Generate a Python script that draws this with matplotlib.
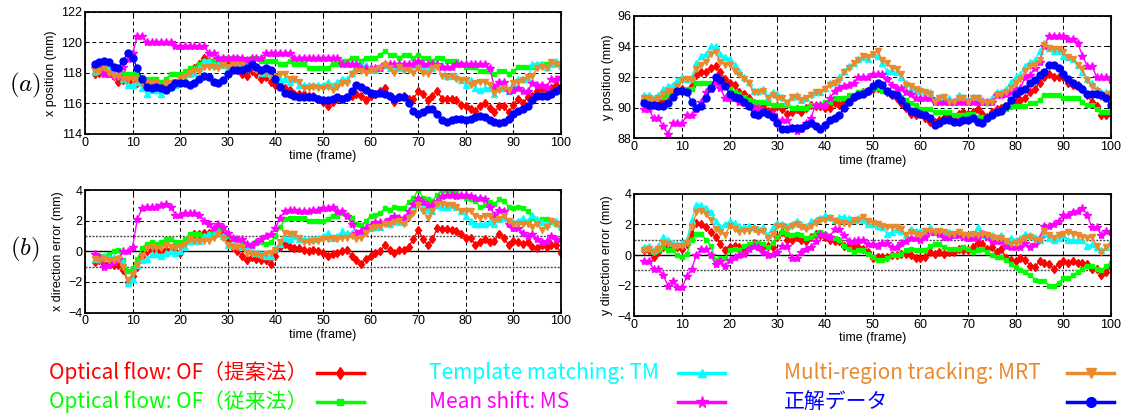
import matplotlib
matplotlib.use("Agg")
import matplotlib.pyplot as plt
from matplotlib.lines import Line2D

plt.rcParams['font.family'] = ['Liberation Sans', 'DejaVu Sans']
plt.rcParams['mathtext.fontset'] = 'cm'

frames = list(range(2, 101))
x_ticks = list(range(0, 101, 10))

# ---- x position (mm) ----
x_true = [118.6, 118.7, 118.8, 118.7, 118.4, 118.3, 118.8, 119.3, 119.0, 118.3,
          117.6, 117.1, 117.0, 117.1, 117.0, 116.9, 117.1, 117.3, 117.3, 117.3,
          117.2, 117.3, 117.6, 117.8, 117.7, 117.4, 117.3, 117.5, 117.9, 118.2,
          118.2, 118.2, 118.3, 118.6, 118.4, 118.2, 118.3, 118.2, 117.6, 117.1,
          116.7, 116.6, 116.5, 116.4, 116.4, 116.4, 116.4, 116.3, 116.2, 116.2,
          116.3, 116.4, 116.3, 116.4, 116.8, 117.2, 117.1, 116.9, 116.7, 116.6,
          116.7, 116.6, 116.5, 116.3, 116.4, 116.4, 116.0, 115.5, 115.3, 115.4,
          115.6, 115.6, 115.3, 114.9, 114.8, 114.9, 115.0, 115.0, 114.9, 115.0,
          115.1, 115.2, 115.1, 114.9, 114.8, 114.7, 114.8, 115.0, 115.3, 115.5,
          115.6, 115.8, 116.2, 116.5, 116.5, 116.5, 116.6, 116.8, 117.0]
x_of_prop = [117.9, 118.0, 118.1, 118.0, 117.8, 117.4, 117.5, 117.4, 117.5, 117.3,
             117.4, 117.1, 117.1, 117.0, 116.9, 117.0, 117.2, 117.3, 117.4, 117.9,
             118.1, 118.3, 118.6, 119.0, 118.8, 118.8, 118.8, 118.6, 118.5, 118.4,
             118.2, 117.9, 117.8, 118.1, 117.9, 117.6, 117.7, 117.4, 117.2, 117.4,
             117.0, 116.9, 116.6, 116.6, 116.6, 116.5, 116.5, 116.3, 116.1, 115.8,
             116.1, 116.3, 116.3, 116.4, 116.5, 116.6, 116.5, 116.2, 116.5, 116.6,
             116.8, 117.0, 116.5, 116.1, 116.4, 116.5, 116.3, 116.3, 116.8, 116.6,
             116.2, 116.5, 116.8, 116.3, 116.3, 116.3, 116.2, 115.9, 115.8, 115.6,
             115.5, 115.8, 116.0, 115.7, 115.4, 115.8, 115.8, 115.4, 115.9, 116.3,
             116.0, 116.4, 116.5, 116.8, 117.0, 116.8, 117.0, 117.2, 117.0]
x_of_conv = [118.0, 118.2, 118.5, 118.4, 118.4, 118.3, 118.0, 117.9, 117.9, 117.9,
             117.7, 117.6, 117.6, 117.6, 117.4, 117.6, 117.9, 117.9, 117.9, 118.1,
             118.3, 118.3, 118.6, 118.8, 118.8, 118.8, 118.8, 119.0, 119.0, 119.0,
             119.0, 118.8, 118.8, 119.0, 119.0, 118.8, 118.8, 118.8, 118.8, 118.6,
             118.6, 118.8, 118.6, 118.6, 118.6, 118.3, 118.3, 118.3, 118.3, 118.3,
             118.6, 118.6, 118.8, 118.8, 119.0, 119.0, 118.8, 119.0, 119.0, 119.0,
             119.2, 119.4, 119.2, 119.2, 119.0, 119.2, 119.2, 119.0, 119.2, 119.0,
             119.0, 118.8, 119.0, 119.0, 118.8, 118.8, 118.8, 118.6, 118.4, 118.4,
             118.4, 118.1, 118.1, 118.1, 117.9, 118.1, 118.1, 117.9, 118.1, 118.4,
             118.4, 118.4, 118.4, 118.4, 118.6, 118.6, 118.6, 118.6, 118.4]
x_tm = [118.1, 118.2, 118.5, 118.3, 118.0, 117.8, 117.6, 117.2, 117.2, 117.4,
        117.0, 116.6, 116.9, 116.9, 116.6, 116.9, 117.1, 117.2, 117.3, 117.6,
        117.9, 118.0, 118.3, 118.8, 118.8, 118.5, 118.5, 118.5, 118.3, 118.6,
        118.6, 118.5, 118.6, 118.6, 118.3, 118.0, 118.0, 117.9, 117.8, 117.6,
        117.6, 117.4, 117.6, 117.2, 117.2, 117.2, 117.2, 117.2, 117.2, 117.4,
        117.2, 117.4, 117.6, 117.6, 118.0, 118.3, 118.5, 118.5, 118.2, 118.2,
        118.3, 118.5, 118.3, 118.3, 118.3, 118.3, 118.5, 118.5, 118.7, 118.3,
        118.2, 118.3, 118.5, 118.5, 117.8, 117.8, 117.8, 117.5, 117.2, 117.5,
        117.0, 116.9, 117.0, 117.0, 116.6, 117.0, 117.0, 116.8, 117.3, 117.6,
        117.6, 117.6, 118.6, 118.6, 118.6, 118.4, 118.6, 118.8, 118.6]
x_ms = [118.3, 118.3, 117.9, 117.9, 117.8, 117.8, 118.4, 118.9, 119.3, 120.4,
        120.4, 120.0, 120.0, 120.0, 120.0, 120.0, 120.0, 119.75, 119.75, 119.75,
        119.75, 119.75, 119.75, 119.75, 119.3, 119.3, 119.0, 119.0, 119.0, 119.0,
        119.0, 119.0, 118.85, 119.0, 119.0, 119.0, 119.3, 119.3, 119.3, 119.3,
        119.3, 119.3, 119.0, 119.0, 119.0, 119.0, 119.0, 119.0, 119.0, 119.0,
        119.0, 119.0, 118.6, 118.6, 118.6, 118.6, 118.3, 118.3, 118.3, 118.3,
        118.3, 118.6, 118.6, 118.6, 118.6, 118.6, 118.6, 118.6, 118.8, 118.6,
        118.6, 118.6, 118.6, 118.4, 118.4, 118.4, 118.6, 118.6, 118.6, 118.6,
        118.6, 118.6, 118.6, 118.3, 117.1, 117.4, 117.4, 116.8, 116.9, 117.0,
        116.8, 116.8, 117.3, 117.2, 117.2, 117.1, 117.6, 117.6, 117.7]
x_mrt = [118.1, 118.1, 118.3, 118.0, 117.8, 117.8, 117.6, 117.6, 117.6, 117.5,
         117.3, 117.3, 117.3, 117.3, 117.1, 117.3, 117.3, 117.4, 117.6, 117.8,
         118.0, 118.1, 118.1, 118.4, 118.4, 118.4, 118.3, 118.5, 118.4, 118.5,
         118.5, 118.5, 118.3, 118.5, 118.2, 118.0, 118.0, 117.9, 117.7, 117.9,
         117.9, 117.6, 117.6, 117.4, 117.0, 117.0, 117.1, 117.0, 117.0, 117.1,
         116.9, 117.1, 117.3, 117.3, 117.9, 118.1, 118.1, 118.0, 118.2, 118.2,
         118.3, 118.5, 118.3, 118.0, 118.4, 118.2, 118.2, 118.0, 118.3, 118.0,
         117.9, 118.3, 118.4, 117.8, 117.7, 117.8, 117.6, 117.5, 117.5, 117.2,
         117.3, 117.4, 117.4, 117.2, 116.7, 116.9, 117.0, 116.9, 117.3, 117.4,
         117.5, 117.7, 117.8, 118.3, 118.4, 118.3, 118.7, 118.6, 118.4]

# ---- y position (mm) ----
y_true = [90.3, 90.2, 90.2, 90.1, 90.1, 90.3, 90.7, 91.1, 91.1, 91.0,
          90.4, 90.0, 90.1, 90.6, 91.3, 92.0, 91.8, 91.4, 90.9, 90.7,
          90.6, 90.4, 90.1, 89.6, 89.5, 89.7, 89.6, 89.4, 89.0, 88.6,
          88.6, 88.7, 88.7, 88.7, 88.9, 89.0, 88.8, 88.6, 88.9, 89.2,
          89.3, 89.5, 90.0, 90.4, 90.7, 90.8, 90.9, 91.1, 91.4, 91.6,
          91.5, 91.1, 90.9, 90.8, 90.5, 90.1, 89.8, 89.7, 89.6, 89.5,
          89.3, 88.9, 89.0, 89.2, 89.2, 89.1, 89.1, 89.2, 89.2, 89.3,
          89.1, 89.0, 89.3, 89.5, 89.7, 89.8, 90.1, 90.5, 90.9, 91.1,
          91.2, 91.6, 91.8, 92.1, 92.3, 92.8, 92.8, 92.6, 92.2, 91.9,
          91.6, 91.4, 91.2, 90.9, 90.9, 90.9, 90.8, 90.6, 90.2]
y_of_prop = [90.5, 90.5, 90.4, 90.3, 90.5, 90.8, 91.0, 91.1, 91.2, 91.1,
             91.4, 92.1, 92.3, 92.3, 92.6, 92.7, 92.3, 91.9, 91.6, 91.5,
             91.0, 90.9, 90.6, 90.3, 89.9, 90.1, 89.8, 89.9, 90.1, 89.9,
             89.6, 89.7, 89.9, 89.7, 90.0, 90.2, 90.1, 90.1, 90.0, 90.0,
             90.3, 90.2, 90.4, 90.5, 90.7, 90.9, 91.0, 91.1, 91.2, 91.3,
             91.3, 91.0, 90.8, 90.6, 90.3, 90.0, 89.6, 89.5, 89.6, 89.3,
             89.1, 89.1, 89.2, 89.3, 89.5, 89.4, 89.6, 89.7, 89.6, 89.7,
             89.9, 89.6, 89.4, 89.7, 89.9, 90.0, 90.1, 90.2, 90.4, 90.5,
             90.6, 91.0, 91.2, 91.6, 92.0, 92.2, 92.0, 92.0, 92.0, 91.6,
             91.5, 91.5, 91.2, 90.8, 90.4, 90.1, 89.5, 89.5, 89.6]
y_of_conv = [90.5, 90.5, 90.5, 90.7, 90.7, 90.8, 91.0, 91.1, 91.1, 91.2,
             91.2, 91.6, 91.6, 91.6, 91.6, 91.8, 91.6, 91.4, 91.2, 91.0,
             90.9, 90.7, 90.5, 90.4, 90.4, 90.4, 90.3, 90.2, 90.2, 90.2,
             90.2, 90.0, 90.0, 90.0, 90.0, 90.2, 90.2, 90.2, 90.4, 90.4,
             90.6, 90.6, 90.6, 90.8, 90.8, 91.0, 91.1, 91.1, 91.3, 91.3,
             91.1, 91.1, 90.9, 90.9, 90.7, 90.5, 90.3, 90.2, 89.9, 89.9,
             89.9, 89.7, 89.7, 89.7, 89.7, 89.5, 89.5, 89.5, 89.6, 89.6,
             89.4, 89.4, 89.4, 89.6, 89.8, 89.8, 89.9, 90.1, 90.1, 90.1,
             90.1, 90.3, 90.3, 90.5, 90.8, 90.8, 90.8, 90.8, 90.6, 90.6,
             90.6, 90.6, 90.4, 90.2, 90.2, 89.9, 89.7, 89.7, 89.7]
y_tm = [90.8, 90.8, 90.6, 90.8, 91.2, 91.4, 91.5, 91.8, 92.0, 91.9,
        92.0, 92.9, 93.4, 93.5, 94.0, 94.0, 93.5, 93.3, 93.2, 92.8,
        92.4, 92.0, 91.7, 91.1, 91.1, 91.2, 90.7, 91.0, 90.9, 90.7,
        90.4, 90.7, 90.8, 90.5, 90.6, 90.9, 91.0, 91.0, 91.3, 91.6,
        91.7, 92.0, 92.4, 92.7, 92.9, 93.2, 93.3, 93.2, 93.5, 93.4,
        92.9, 92.4, 92.4, 92.3, 92.0, 91.6, 91.3, 91.1, 91.2, 91.0,
        91.0, 90.5, 90.7, 90.5, 90.6, 90.4, 90.8, 90.7, 90.5, 90.7,
        90.7, 90.5, 90.4, 90.6, 91.0, 91.0, 91.2, 91.7, 92.0, 92.2,
        92.7, 93.0, 93.1, 93.7, 94.2, 93.9, 93.7, 93.7, 93.4, 93.3,
        93.2, 92.8, 92.3, 91.9, 91.6, 91.2, 91.0, 91.0, 91.1]
y_ms = [89.9, 89.9, 89.3, 89.3, 88.8, 88.3, 89.0, 89.0, 89.0, 89.5,
        89.5, 89.9, 90.4, 91.0, 91.2, 91.6, 91.3, 90.6, 90.6, 90.6,
        90.4, 90.3, 90.1, 90.0, 90.0, 89.8, 89.6, 89.6, 89.2, 89.2,
        89.2, 88.7, 88.5, 88.6, 89.0, 89.3, 90.2, 90.2, 90.2, 90.6,
        91.1, 91.3, 91.4, 91.5, 91.6, 92.0, 92.0, 92.0, 92.2, 92.2,
        92.2, 91.9, 91.5, 91.3, 91.3, 91.0, 90.9, 90.6, 90.6, 90.6,
        90.6, 90.4, 90.4, 90.4, 90.4, 90.4, 90.4, 90.4, 90.4, 90.4,
        90.4, 90.4, 90.4, 90.4, 90.8, 90.8, 90.9, 91.0, 91.2, 91.3,
        92.0, 92.1, 92.6, 93.0, 94.0, 94.7, 94.7, 94.7, 94.7, 94.5,
        94.5, 94.2, 93.4, 92.7, 92.7, 92.0, 92.0, 92.0, 91.8]
y_mrt = [90.6, 90.6, 90.5, 90.6, 90.9, 91.1, 91.1, 91.4, 91.8, 91.9,
         91.8, 92.5, 92.8, 93.0, 93.5, 93.6, 93.0, 92.8, 92.8, 92.4,
         92.1, 91.9, 91.6, 91.0, 91.0, 91.1, 90.6, 90.8, 90.6, 90.6,
         90.3, 90.7, 90.7, 90.5, 90.6, 90.8, 91.0, 91.0, 91.2, 91.5,
         91.6, 91.8, 92.3, 92.6, 92.9, 93.1, 93.4, 93.3, 93.5, 93.7,
         93.1, 92.9, 92.6, 92.5, 92.2, 91.5, 91.4, 91.2, 91.1, 91.0,
         90.9, 90.4, 90.6, 90.7, 90.4, 90.4, 90.6, 90.6, 90.4, 90.6,
         90.6, 90.4, 90.3, 90.4, 90.8, 90.9, 91.0, 91.3, 91.6, 91.9,
         92.4, 92.7, 92.8, 93.1, 94.1, 93.9, 93.8, 93.8, 93.6, 93.3,
         93.2, 92.8, 92.5, 91.8, 91.4, 91.1, 90.7, 90.8, 90.9]

# ---- x direction error (mm) ----
ex_of_prop = [-0.7, -0.6, -0.8, -0.8, -0.9, -0.9, -1.2, -2.0, -1.6, -1.0,
              -0.3, 0.0, 0.1, 0.0, 0.0, 0.1, 0.1, 0.0, -0.1, 0.6,
              0.9, 1.1, 1.1, 1.2, 1.2, 1.4, 1.5, 1.1, 0.6, 0.3,
              0.0, -0.3, -0.6, -0.4, -0.5, -0.6, -0.6, -0.8, -0.3, 0.3,
              0.5, 0.3, 0.2, 0.2, 0.1, 0.0, 0.1, 0.0, -0.1, -0.3,
              -0.2, -0.1, 0.0, 0.1, -0.3, -0.6, -0.85, -0.5, -0.3, -0.1,
              0.0, 0.4, 0.1, -0.1, 0.1, 0.1, 0.3, 0.8, 1.4, 0.8,
              0.4, 0.8, 1.5, 1.45, 1.45, 1.4, 1.3, 1.1, 0.9, 0.9,
              0.4, 0.6, 0.8, 0.6, 0.7, 1.1, 0.9, 0.4, 0.7, 0.6,
              0.5, 0.6, 0.3, 0.2, 0.4, 0.3, 0.4, 0.4, -0.1]
ex_of_conv = [-0.4, -0.3, -0.3, -0.2, 0.0, 0.1, -0.6, -1.3, -1.1, -0.5,
              0.2, 0.5, 0.6, 0.5, 0.6, 0.8, 0.8, 0.6, 0.6, 0.8,
              1.1, 1.1, 1.1, 1.0, 1.1, 1.4, 1.5, 1.5, 1.0, 0.8,
              0.8, 0.6, 0.4, 0.4, 0.6, 0.6, 0.5, 0.6, 1.0, 1.6,
              2.1, 2.2, 2.2, 2.2, 2.2, 2.0, 2.0, 2.0, 2.0, 2.1,
              2.3, 2.3, 2.5, 2.4, 2.2, 1.8, 1.7, 2.0, 2.3, 2.4,
              2.5, 2.8, 2.7, 2.9, 2.8, 2.8, 3.2, 3.5, 4.0, 3.5,
              3.4, 3.3, 3.7, 4.0, 4.0, 3.9, 3.8, 3.6, 3.5, 3.4,
              3.3, 2.9, 3.0, 3.2, 3.1, 3.4, 3.3, 2.9, 2.8, 2.9,
              2.8, 2.6, 2.2, 1.9, 2.1, 2.1, 2.0, 1.8, 1.5]
ex_tm = [-0.5, -0.5, -0.3, -0.4, -0.4, -0.5, -0.7, -2.1, -1.8, -0.9,
         -0.6, -0.5, -0.2, -0.2, -0.3, -0.1, 0.0, -0.1, 0.0, 0.3,
         0.7, 0.7, 0.7, 1.0, 1.1, 1.1, 1.2, 1.0, 0.4, 0.4,
         0.4, 0.3, 0.2, 0.0, -0.1, -0.2, -0.3, -0.3, 0.2, 0.5,
         0.9, 0.8, 1.0, 0.8, 0.8, 0.8, 0.8, 0.9, 1.0, 1.2,
         0.9, 1.0, 1.3, 1.2, 1.2, 1.1, 1.3, 1.6, 1.5, 1.6,
         1.6, 1.9, 1.8, 2.0, 1.9, 1.9, 2.5, 3.0, 3.4, 2.9,
         2.7, 2.6, 3.0, 2.9, 2.9, 3.0, 2.9, 2.6, 2.3, 2.0,
         1.8, 1.8, 1.8, 1.9, 1.8, 2.1, 2.2, 1.9, 1.9, 2.0,
         2.2, 2.0, 2.4, 2.1, 1.9, 1.8, 2.0, 2.0, 1.7]
ex_ms = [-0.2, -0.4, -1.0, -0.9, -0.7, -0.5, 0.0, 0.0, 0.3, 2.1,
         2.8, 2.9, 2.9, 2.9, 3.0, 3.1, 2.9, 2.4, 2.4, 2.5,
         2.5, 2.5, 2.4, 2.0, 1.8, 1.5, 1.8, 1.6, 1.2, 0.9,
         0.8, 0.8, 0.5, 0.4, 0.6, 0.8, 1.0, 1.1, 1.5, 2.2,
         2.6, 2.7, 2.7, 2.6, 2.6, 2.6, 2.7, 2.7, 2.8, 2.8,
         2.9, 2.6, 2.6, 2.3, 1.8, 1.2, 1.3, 1.5, 1.7, 1.9,
         1.9, 1.9, 2.1, 2.3, 2.2, 2.2, 2.6, 3.1, 3.5, 3.2,
         3.0, 3.0, 3.3, 3.6, 3.7, 3.7, 3.6, 3.7, 3.7, 3.6,
         3.5, 3.5, 3.4, 2.9, 2.4, 2.7, 2.6, 1.8, 1.5, 1.5,
         1.2, 1.0, 1.1, 0.8, 0.6, 0.7, 1.0, 0.8, 0.8]
ex_mrt = [-0.5, -0.6, -0.5, -0.6, -0.6, -0.5, -1.0, -1.9, -1.5, -0.9,
          -0.3, 0.2, 0.3, 0.2, 0.2, 0.4, 0.3, 0.2, 0.3, 0.5,
          0.8, 0.7, 0.7, 0.7, 0.7, 0.9, 1.1, 0.9, 0.4, 0.3,
          0.3, 0.3, -0.1, -0.2, -0.2, -0.3, -0.2, -0.1, 0.1, 0.6,
          1.2, 1.1, 1.1, 0.9, 0.6, 0.6, 0.7, 0.7, 0.8, 0.8,
          0.9, 0.8, 0.9, 0.9, 1.0, 0.8, 0.9, 1.2, 1.5, 1.6,
          1.6, 1.8, 1.8, 1.9, 2.0, 1.8, 2.2, 2.5, 3.0, 2.6,
          2.2, 2.6, 3.1, 3.1, 3.0, 3.0, 2.9, 2.6, 2.6, 2.6,
          2.3, 2.2, 2.3, 2.3, 2.0, 2.1, 2.3, 2.0, 1.8, 1.8,
          1.8, 1.8, 1.6, 1.8, 1.4, 1.6, 2.0, 1.8, 1.5]

# ---- y direction error (mm) ----
ey_of_prop = [0.3, 0.3, -0.1, 0.2, 0.5, 0.6, 0.5, 0.5, 0.4, 0.7,
              1.4, 2.1, 2.0, 1.8, 1.5, 1.2, 0.7, 0.3, 0.5, 0.6,
              0.5, 0.3, 0.6, 0.8, 0.6, 0.5, 0.6, 0.5, 1.2, 1.5,
              1.0, 1.0, 1.2, 1.0, 0.9, 1.2, 1.4, 1.3, 1.2, 1.0,
              0.9, 0.9, 0.6, 0.5, 0.5, 0.5, 0.4, 0.2, -0.2, -0.1,
              -0.1, -0.1, 0.0, 0.0, 0.1, 0.1, 0.0, -0.2, -0.2, -0.1,
              0.2, 0.1, 0.2, 0.1, 0.2, 0.2, 0.4, 0.3, 0.3, 0.5,
              0.8, 0.7, 0.4, 0.5, 0.2, 0.4, -0.2, -0.3, -0.4, -0.2,
              -0.3, -0.7, -0.8, -0.4, -0.5, -0.6, -0.9, -0.6, -0.4, -0.5,
              -0.4, -0.5, -0.5, -0.6, -0.9, -0.9, -1.3, -1.1, -0.8]
ey_of_conv = [0.4, 0.4, 0.2, 0.3, 0.5, 0.3, 0.3, 0.0, -0.1, 0.1,
              1.0, 1.4, 1.4, 1.0, 0.6, -0.3, -0.2, -0.2, 0.3, 0.4,
              0.3, 0.6, 0.7, 0.8, 0.8, 0.7, 0.5, 0.8, 1.2, 1.5,
              1.4, 1.3, 1.4, 1.3, 1.1, 1.2, 1.4, 1.5, 1.4, 1.2,
              1.1, 1.0, 0.6, 0.4, 0.2, 0.3, 0.3, 0.1, -0.1, -0.3,
              -0.3, -0.2, 0.0, 0.0, 0.1, 0.3, 0.4, 0.3, 0.3, 0.3,
              0.6, 0.7, 0.7, 0.5, 0.4, 0.4, 0.4, 0.5, 0.4, 0.2,
              0.3, 0.4, 0.2, 0.0, -0.1, -0.1, -0.3, -0.6, -0.8, -1.0,
              -1.1, -1.3, -1.6, -1.7, -1.7, -2.0, -2.0, -1.8, -1.5, -1.5,
              -1.3, -1.1, -0.9, -0.7, -0.7, -0.9, -1.0, -0.7, -0.5]
ey_tm = [0.5, 0.6, 0.3, 0.6, 1.2, 1.0, 0.8, 0.7, 0.8, 1.0,
         2.3, 3.3, 3.3, 3.1, 2.8, 2.2, 1.8, 2.0, 2.2, 2.1,
         1.9, 1.8, 1.9, 1.8, 1.7, 1.8, 1.3, 1.8, 2.1, 2.0,
         1.9, 2.0, 2.2, 2.0, 1.9, 2.2, 2.3, 2.4, 2.6, 2.5,
         2.3, 2.5, 2.5, 2.4, 2.3, 2.4, 2.3, 2.0, 2.0, 1.9,
         1.8, 1.4, 1.5, 1.7, 1.6, 1.3, 1.7, 1.6, 1.6, 1.5,
         1.8, 1.5, 1.5, 1.4, 1.5, 1.3, 1.5, 1.4, 1.3, 1.3,
         1.8, 1.3, 1.4, 1.3, 1.0, 1.3, 0.8, 1.1, 1.0, 1.1,
         1.4, 1.3, 1.2, 1.0, 1.4, 1.1, 1.0, 1.1, 1.3, 1.0,
         1.0, 1.0, 1.0, 0.6, 0.7, 0.5, 0.3, 0.5, 0.9]
ey_ms = [-0.4, -0.4, -0.9, -0.9, -1.3, -2.0, -1.7, -2.1, -2.1, -1.4,
         -0.9, 0.0, 0.4, 0.4, 0.0, -0.6, -0.4, -0.7, -0.3, -0.1,
         0.0, 0.1, 0.4, 0.6, 0.5, 0.2, 0.0, 0.1, 0.2, 0.6,
         0.6, -0.2, -0.2, 0.2, 0.4, 0.5, 0.9, 1.4, 1.3, 1.2,
         1.7, 1.7, 1.3, 0.9, 0.9, 1.0, 1.0, 0.7, 0.7, 0.6,
         0.8, 0.8, 0.5, 0.5, 0.8, 0.9, 1.1, 1.1, 1.0, 1.2,
         1.5, 1.5, 1.4, 1.2, 1.2, 1.3, 1.3, 1.2, 1.1, 1.1,
         1.2, 1.4, 1.2, 0.9, 0.9, 0.9, 0.6, 0.5, 0.5, 0.5,
         0.8, 0.5, 0.7, 1.1, 1.9, 1.9, 2.0, 2.2, 2.6, 2.6,
         2.8, 2.9, 3.1, 2.6, 1.8, 1.8, 1.3, 1.6, 1.5]
ey_mrt = [0.3, 0.4, 0.2, 0.4, 0.8, 0.7, 0.6, 0.6, 0.6, 0.8,
          1.8, 2.8, 2.9, 2.7, 2.3, 1.7, 1.5, 1.3, 1.9, 1.7,
          1.5, 1.6, 1.6, 1.7, 1.5, 1.6, 1.1, 1.4, 1.9, 1.9,
          1.7, 1.9, 2.0, 1.8, 1.7, 1.9, 2.1, 2.3, 2.3, 2.4,
          2.2, 2.1, 2.1, 2.0, 2.3, 2.3, 2.5, 2.2, 2.1, 2.0,
          1.9, 1.8, 1.8, 1.8, 1.7, 1.3, 1.5, 1.4, 1.3, 1.6,
          1.6, 1.5, 1.6, 1.5, 1.4, 1.4, 1.5, 1.3, 1.3, 1.4,
          1.3, 1.4, 1.3, 1.2, 1.1, 1.1, 0.9, 0.7, 0.8, 0.9,
          1.1, 1.2, 1.0, 1.0, 1.6, 1.3, 1.1, 1.3, 1.4, 1.5,
          1.4, 1.3, 1.2, 1.1, 1.2, 0.6, 0.2, 0.5, 0.6]

# Legend texts and series styling
labels = ["Optical flow: OF（提案法）", "Optical flow: OF（従来法）",
          "Template matching: TM", "Mean shift: MS",
          "Multi-region tracking: MRT", "正解データ"]
colors = ["#ff0000", "#00ff00", "#00ffff", "#ff00ff", "#e88a2e", "#0000ff"]
markers = ["d", "s", "^", "*", "v", "o"]
msizes = [4.5, 3.5, 4.5, 6, 5, 5]

W, H = 1125, 418
fig = plt.figure(figsize=(W / 100, H / 100), dpi=100)


def axes_px(x0, x1, y0, y1):
    return fig.add_axes([x0 / W, 1 - y1 / H, (x1 - x0) / W, (y1 - y0) / H])


def style(ax, ylim, yticks, ylabel, error=False):
    ax.set_xlim(0, 100)
    ax.set_ylim(*ylim)
    ax.set_xticks(x_ticks)
    ax.set_yticks(yticks)
    ax.tick_params(direction="in", length=3, labelsize=9, pad=2,
                   top=True, right=True)
    ax.set_xlabel("time (frame)", fontsize=9, labelpad=1)
    ax.set_ylabel(ylabel, fontsize=9, labelpad=3)
    for s in ax.spines.values():
        s.set_linewidth(1.3)
    ax.grid(True, color="black", linestyle=(0, (4, 3)), linewidth=0.7)
    if error:
        ax.yaxis.grid(False)
        for v in (-2, 2):
            ax.axhline(v, color="black", linestyle=(0, (4, 3)),
                       linewidth=0.7, zorder=0.5)
        for v in (-1, 1):
            ax.axhline(v, color="0.3", linestyle=(0, (1.5, 1)),
                       linewidth=1.0, zorder=0.5)
        ax.axhline(0, color="black", linewidth=1.0, zorder=0.5)


def draw(ax, series):
    for vals, c, m, ms in series:
        ax.plot(frames, vals, color=c, marker=m, markersize=ms,
                markeredgecolor=c, linewidth=1.0)


ax_a1 = axes_px(85, 561, 11.8, 133.8)
draw(ax_a1, zip([x_of_prop, x_of_conv, x_tm, x_ms, x_mrt, x_true],
                colors, markers, msizes))
style(ax_a1, (114, 122), [114, 116, 118, 120, 122], "x position (mm)")

ax_a2 = axes_px(634.5, 1111, 15.6, 138.4)
draw(ax_a2, zip([y_of_prop, y_of_conv, y_tm, y_ms, y_mrt, y_true],
                colors, markers, msizes))
style(ax_a2, (88, 96), [88, 90, 92, 94, 96], "y position (mm)")

ax_b1 = axes_px(85, 561, 190, 312.6)
draw(ax_b1, zip([ex_of_prop, ex_of_conv, ex_tm, ex_ms, ex_mrt],
                colors[:5], markers[:5], msizes[:5]))
style(ax_b1, (-4, 4), [-4, -2, 0, 2, 4], "x direction error (mm)", error=True)

ax_b2 = axes_px(634.5, 1111, 193.8, 316.3)
draw(ax_b2, zip([ey_of_prop, ey_of_conv, ey_tm, ey_ms, ey_mrt],
                colors[:5], markers[:5], msizes[:5]))
style(ax_b2, (-4, 4), [-4, -2, 0, 2, 4], "y direction error (mm)", error=True)

# Panel tags
fig.text(25 / W, 1 - 85 / H, r"$(a)$", fontsize=18, ha="center", va="center")
fig.text(25 / W, 1 - 249 / H, r"$(b)$", fontsize=18, ha="center", va="center")

# Hand-placed legend in three columns
legend_slots = [(49, 317, 373), (49, 317, 402), (429, 678, 373),
                (429, 678, 402), (784, 1067, 373), (784, 1067, 402)]
for (tx, lx, ly), lab, c, m, ms in zip(legend_slots, labels, colors,
                                       markers, msizes):
    fig.text(tx / W, 1 - ly / H, lab, color=c, fontsize=15,
             family=["Noto Sans CJK JP", "DejaVu Sans"],
             ha="left", va="center")
    fig.add_artist(Line2D([lx / W, (lx + 47) / W], [1 - ly / H, 1 - ly / H],
                          color=c, linewidth=2.5, transform=fig.transFigure))
    fig.add_artist(Line2D([(lx + 23.5) / W], [1 - ly / H], color=c,
                          marker=m, markersize=ms * 1.4, markeredgecolor=c,
                          transform=fig.transFigure))

fig.savefig("out.png", dpi=100)
